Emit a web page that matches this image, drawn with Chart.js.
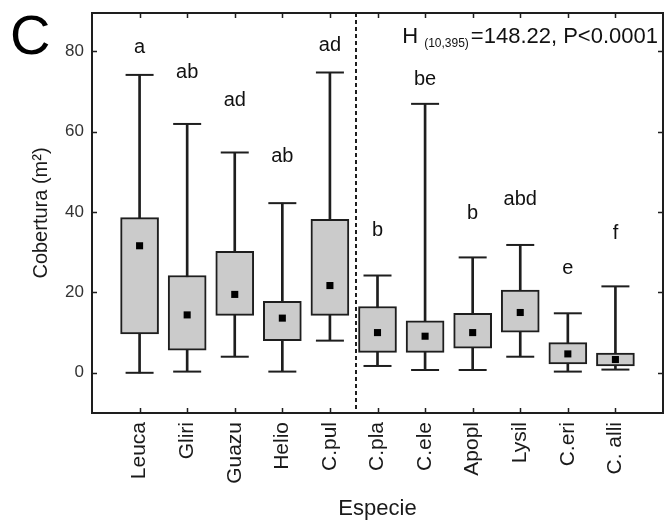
<!DOCTYPE html>
<html>
<head>
<meta charset="utf-8">
<script src="https://cdn.jsdelivr.net/npm/chart.js@4.4.0/dist/chart.umd.min.js"></script>
<style>
  body { margin: 0; background: #fff; }
  #wrap { width: 666px; height: 525px; }
</style>
</head>
<body>
<div id="wrap"><canvas id="myChart" width="666" height="525"></canvas></div>
<script>
// box plot values (cobertura, m2)
var species = ['Leuca', 'Gliri', 'Guazu', 'Helio', 'C.pul', 'C.pla', 'C.ele', 'Apopl', 'Lysil', 'C.eri', 'C. alli'];
var whiskerLow = [0, 0.3, 4.0, 0.3, 8.0, 1.7, 0.7, 0.7, 4.0, 0.3, 0.8];
var boxLow = [9.7, 5.6, 14.3, 8.0, 14.3, 5.1, 5.1, 6.1, 10.1, 2.2, 1.7];
var medians = [31.6, 14.4, 19.5, 13.6, 21.7, 10.0, 9.1, 10.0, 15.0, 4.7, 3.3];
var boxHigh = [38.6, 24.2, 30.2, 17.8, 38.2, 16.5, 12.9, 14.8, 20.6, 7.5, 4.9];
var whiskerHigh = [74.1, 61.9, 54.8, 42.2, 74.7, 24.2, 66.9, 28.7, 31.8, 14.8, 21.5];
// significance letters and the height they sit at
var groups = ['a', 'ab', 'ad', 'ab', 'ad', 'b', 'be', 'b', 'abd', 'e', 'f'];
var groupLevel = [79.5, 73.3, 66.3, 52.5, 80, 34, 71.5, 38.3, 41.8, 24.5, 33.3];
var yTicks = [0, 20, 40, 60, 80];

var FONT = '"Liberation Sans", Arial, sans-serif';
var INK = '#1e1e1e';

var whiskers = species.map(function (s, i) { return { x: i, y: [whiskerLow[i], whiskerHigh[i]] }; });
var boxes = species.map(function (s, i) { return { x: i, y: [boxLow[i], boxHigh[i]] }; });
var caps = [];
species.forEach(function (s, i) {
    caps.push({ x: i, y: whiskerLow[i] });
    caps.push({ x: i, y: whiskerHigh[i] });
});
var mids = species.map(function (s, i) { return { x: i, y: medians[i] }; });

var extras = {
    id: 'extras',
    afterDatasetsDraw: function (chart) {
        var ctx = chart.ctx, a = chart.chartArea;
        var x = chart.scales.x, y = chart.scales.y;
        ctx.save();
        ctx.strokeStyle = INK;
        ctx.lineWidth = 2;

        // dashed divider between the two groups
        var xd = Math.round(x.getPixelForValue(4.55));
        ctx.setLineDash([4, 3]);
        ctx.beginPath();
        ctx.moveTo(xd, a.top);
        ctx.lineTo(xd, a.bottom);
        ctx.stroke();
        ctx.setLineDash([]);

        // frame + inward ticks
        ctx.strokeRect(a.left, a.top, a.right - a.left, a.bottom - a.top);
        ctx.lineWidth = 1.5;
        ctx.beginPath();
        species.forEach(function (s, i) {
            var px = Math.round(x.getPixelForValue(i)) + 0.5;
            ctx.moveTo(px, a.bottom); ctx.lineTo(px, a.bottom - 5);
            ctx.moveTo(px, a.top); ctx.lineTo(px, a.top + 5);
        });
        yTicks.forEach(function (v) {
            var py = Math.round(y.getPixelForValue(v)) + 0.5;
            ctx.moveTo(a.left, py); ctx.lineTo(a.left + 5, py);
            ctx.moveTo(a.right, py); ctx.lineTo(a.right - 5, py);
        });
        ctx.stroke();

        // letters
        ctx.fillStyle = '#111';
        ctx.font = '20px ' + FONT;
        ctx.textAlign = 'center';
        ctx.textBaseline = 'alphabetic';
        groups.forEach(function (g, i) {
            ctx.fillText(g, x.getPixelForValue(i), y.getPixelForValue(groupLevel[i]));
        });

        // Kruskal-Wallis note, right aligned at top
        var main = '=148.22, P<0.0001', sub = '(10,395)';
        ctx.textAlign = 'left';
        ctx.font = '22px ' + FONT;
        var wMain = ctx.measureText(main).width, wH = ctx.measureText('H ').width;
        ctx.font = '12px ' + FONT;
        var wSub = ctx.measureText(sub).width;
        var right = a.right - 5, base = 43;
        var x0 = right - wMain - wSub - 2 - wH;
        ctx.font = '22px ' + FONT;
        ctx.fillText('H', x0, base);
        ctx.fillText(main, right - wMain, base);
        ctx.font = '12px ' + FONT;
        ctx.fillText(sub, x0 + wH, base + 4);

        // panel letter
        ctx.font = '56px ' + FONT;
        ctx.fillStyle = '#000';
        ctx.fillText('C', 10, 54);
        ctx.restore();
    }
};

var ctx = document.getElementById('myChart').getContext('2d');

var myChart = new Chart(ctx, {
    type: 'bar',
    data: {
        datasets: [{
            label: 'whisker',
            data: whiskers,
            backgroundColor: INK,
            barThickness: 2,
            grouped: false,
            order: 4
        }, {
            label: 'box',
            data: boxes,
            backgroundColor: '#cbcbcb',
            borderColor: INK,
            borderWidth: 2,
            borderSkipped: false,
            barThickness: 38,
            grouped: false,
            order: 3
        }, {
            type: 'scatter',
            label: 'caps',
            data: caps,
            pointStyle: 'line',
            pointRadius: 14,
            borderColor: INK,
            borderWidth: 2,
            order: 2
        }, {
            type: 'scatter',
            label: 'median',
            data: mids,
            pointStyle: 'rect',
            pointRadius: 5,
            backgroundColor: '#000',
            borderWidth: 0,
            order: 1
        }]
    },
    options: {
        responsive: false,
        animation: false,
        layout: { autoPadding: false, padding: { left: 0, top: 13, right: 3, bottom: 0 } },
        plugins: {
            legend: { display: false },
            tooltip: { enabled: false }
        },
        scales: {
            x: {
                type: 'linear',
                position: 'bottom',
                offset: false,
                min: -1,
                max: 11,
                afterBuildTicks: function (scale) {
                    scale.ticks = species.map(function (s, i) { return { value: i }; });
                },
                afterFit: function (scale) {
                    scale.height = 112;
                    scale.paddingLeft = 0;
                    scale.paddingRight = 0;
                },
                grid: { display: false, drawTicks: false },
                border: { display: false },
                ticks: {
                    autoSkip: false,
                    minRotation: 90,
                    maxRotation: 90,
                    padding: 9,
                    color: '#1a1a1a',
                    font: { family: FONT, size: 21 },
                    callback: function (v) { return species[v]; }
                },
                title: {
                    display: true,
                    text: 'Especie',
                    color: '#1a1a1a',
                    font: { family: FONT, size: 22 },
                    padding: { top: 0, bottom: 3 }
                }
            },
            y: {
                min: -10,
                max: 89.5,
                afterBuildTicks: function (scale) {
                    scale.ticks = yTicks.map(function (v) { return { value: v }; });
                },
                afterFit: function (scale) {
                    scale.width = 92;
                    scale.paddingTop = 0;
                    scale.paddingBottom = 0;
                },
                grid: { display: false, drawTicks: false },
                border: { display: false },
                ticks: {
                    padding: 8,
                    color: '#333',
                    font: { family: FONT, size: 17 }
                },
                title: {
                    display: true,
                    text: 'Cobertura (m²)',
                    color: '#1a1a1a',
                    font: { family: FONT, size: 20 },
                    padding: { top: 29, bottom: 0 }
                }
            }
        }
    },
    plugins: [extras]
});
</script>
</body>
</html>
